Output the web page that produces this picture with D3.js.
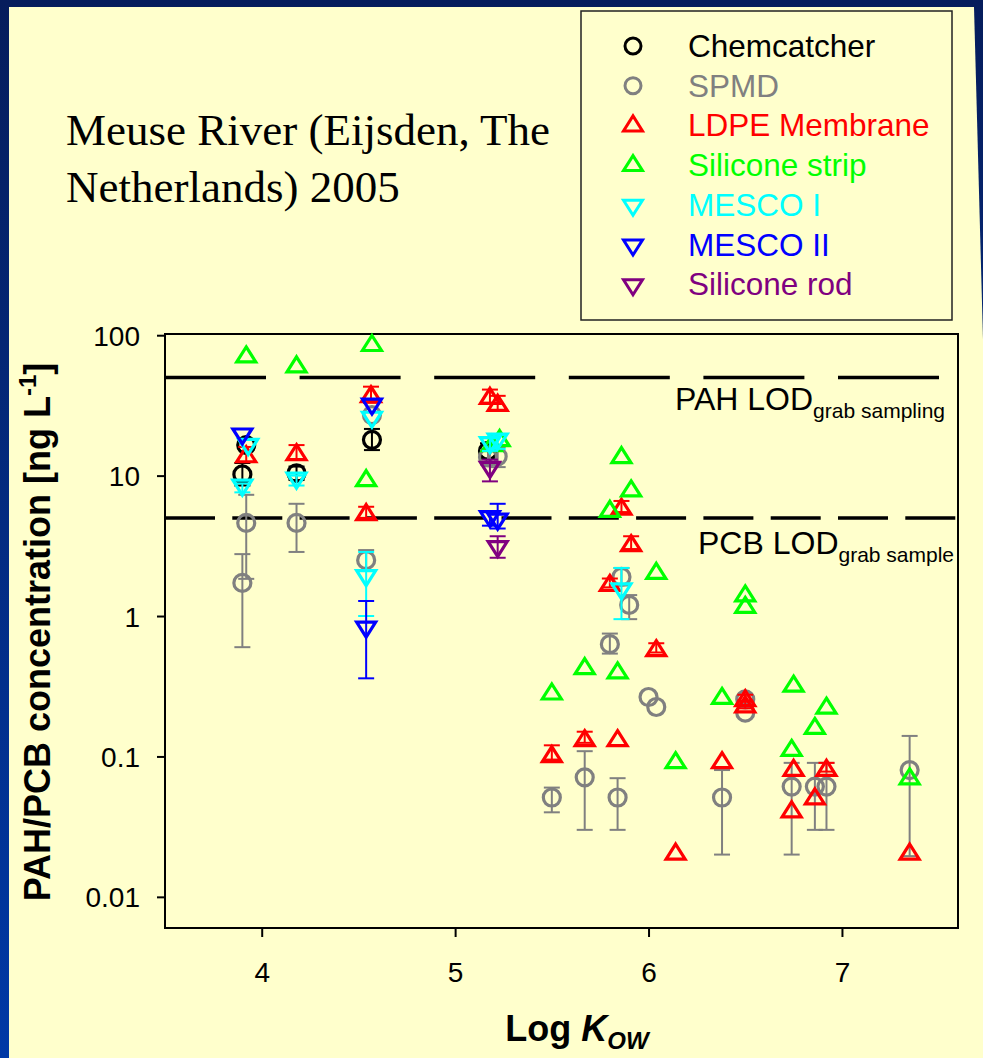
<!DOCTYPE html>
<html><head><meta charset="utf-8">
<script src="https://cdn.jsdelivr.net/npm/d3@7"></script>
<style>html,body{margin:0;padding:0;background:#fff}svg{display:block}</style>
</head><body>
<script>
// Axis ticks
const xTicks = [4, 5, 6, 7];
const xTickLabels = ["4", "5", "6", "7"];
const yTicks = [0.01, 0.1, 1, 10, 100];
const yTickLabels = ["0.01", "0.1", "1", "10", "100"];

// Detection limits of grab sampling (ng/L)
const pahLOD = 50;
const pcbLOD = 5;

// Each row: [log Kow, concentration ng/L, lower bound, upper bound] (null = no error bar)
const chemcatcher = [
  [3.90, 10.2, 8.5, 12.3], [3.92, 16.5, null, null], [4.18, 10.4, 9.3, 11.6],
  [4.57, 18, 15.2, 21.5], [5.17, 15, 13.2, 17]
];
const spmd = [
  [3.90, 1.72, 0.60, 2.76], [3.92, 4.6, 1.84, 7.3], [4.18, 4.6, 2.86, 6.3],
  [4.54, 2.5, 2.1, 2.95], [4.57, 27, null, null], [5.17, 13.5, 12, 15.2],
  [5.22, 13.7, 11.5, 16], [5.86, 1.9, 1.65, 2.2], [5.90, 1.2, 0.95, 1.41],
  [5.80, 0.63, 0.54, 0.75], [6.00, 0.265, null, null], [6.04, 0.225, null, null],
  [6.50, 0.255, null, null], [6.50, 0.205, null, null], [5.50, 0.051, 0.04, 0.06],
  [5.67, 0.071, 0.030, 0.109], [5.84, 0.051, 0.030, 0.070], [6.38, 0.051, 0.020, 0.080],
  [6.74, 0.061, 0.020, 0.09], [6.86, 0.061, 0.030, 0.09], [6.92, 0.061, 0.030, 0.09],
  [7.35, 0.080, 0.0195, 0.14]
];
const ldpe = [
  [3.92, 14.2, 12.5, 16], [4.18, 14.7, 13, 16.5], [4.565, 38, 33, 43], [4.54, 5.5, 5.0, 6.0],
  [5.18, 37, 33, 41], [5.22, 33, 29, 37], [5.86, 6.0, 5.5, 6.6], [5.91, 3.3, 3.0, 3.7],
  [5.80, 1.72, 1.6, 1.85], [6.04, 0.59, 0.55, 0.64], [5.50, 0.104, 0.095, 0.12],
  [5.67, 0.135, 0.125, 0.15], [5.84, 0.135, null, null], [6.38, 0.094, null, null],
  [6.14, 0.021, null, null], [6.50, 0.26, 0.245, 0.275], [6.50, 0.235, 0.22, 0.25],
  [6.75, 0.083, null, null], [6.74, 0.042, null, null], [6.86, 0.052, null, null],
  [6.92, 0.083, 0.078, 0.09], [7.35, 0.021, null, null]
];
const siliconeStrip = [
  [3.92, 73, null, null], [4.18, 62, null, null], [4.57, 88, null, null], [4.54, 9.6, null, null],
  [5.19, 17, null, null], [5.23, 18.5, null, null], [5.86, 14, null, null], [5.91, 8.1, null, null],
  [5.80, 5.8, null, null], [6.04, 2.1, null, null], [5.67, 0.44, null, null], [5.84, 0.41, null, null],
  [5.50, 0.29, null, null], [6.38, 0.27, null, null], [6.14, 0.094, null, null], [6.50, 1.45, null, null],
  [6.50, 1.2, null, null], [6.75, 0.33, null, null], [6.92, 0.23, null, null], [6.86, 0.165, null, null],
  [6.74, 0.115, null, null], [7.35, 0.072, null, null]
];
const mescoI = [
  [3.93, 16, null, null], [3.90, 8.2, 7.6, 8.8], [4.18, 9.2, 8.5, 10], [4.57, 25, null, null],
  [4.54, 1.86, 1.0, 2.86], [5.18, 16.5, 15, 18.5], [5.22, 17.5, 15.5, 19.5], [5.86, 1.5, 0.95, 2.2]
];
const mescoII = [
  [3.90, 19, null, null], [4.57, 31, null, null], [4.54, 0.8, 0.36, 1.28],
  [5.18, 4.9, 4.4, 5.5], [5.22, 4.7, 4.2, 6.3]
];
const siliconeRod = [
  [5.18, 11, 9.1, 13], [5.22, 3.0, 2.6, 3.7]
];

const seriesNames = ["Chemcatcher", "SPMD", "LDPE Membrane", "Silicone strip", "MESCO I", "MESCO II", "Silicone rod"];
const seriesData = [chemcatcher, spmd, ldpe, siliconeStrip, mescoI, mescoII, siliconeRod];
const seriesColors = ["#000000", "#808080", "#ff0000", "#00ff00", "#00ffff", "#0000ff", "#800080"];
const seriesShapes = ["circle", "circle", "up", "up", "down", "down", "down"];

const W = 983, H = 1058;
const svg = d3.select("body").append("svg").attr("width", W).attr("height", H);

// Slide background: blue surround with a pale yellow panel
const defs = svg.append("defs");
const grad = defs.append("linearGradient").attr("id", "bg").attr("x1", 0).attr("y1", 0).attr("x2", 0).attr("y2", 1);
grad.append("stop").attr("offset", 0).attr("stop-color", "#061d5c");
grad.append("stop").attr("offset", 1).attr("stop-color", "#0039a6");
svg.append("rect").attr("width", W).attr("height", H).attr("fill", "url(#bg)");
svg.append("path").attr("d", `M9,7L974,7L983,340L983,${H}L9,${H}Z`).attr("fill", "#ffffcc");

// Scales
const plotL = 165, plotR = 958, plotT = 334, plotB = 928;
const x = d3.scaleLinear().domain([3.5, 7.6]).range([plotL, plotR]);
const y = d3.scaleLog().domain([0.006, 102]).range([plotB, plotT]);

// Title
const title = svg.append("text").attr("font-family", "'Liberation Serif','Times New Roman',serif")
  .attr("font-size", 45).attr("fill", "#000");
title.append("tspan").attr("x", 66).attr("y", 145).text("Meuse River (Eijsden, The");
title.append("tspan").attr("x", 66).attr("y", 202).text("Netherlands) 2005");

// Frame
svg.append("rect").attr("x", plotL).attr("y", plotT).attr("width", plotR - plotL).attr("height", plotB - plotT)
  .attr("fill", "none").attr("stroke", "#000").attr("stroke-width", 2);

// Axes
const fontSans = "'Liberation Sans', Arial, sans-serif";
const yAxis = svg.append("g").attr("transform", `translate(${plotL},0)`)
  .call(d3.axisLeft(y).tickValues(yTicks).tickFormat((d, i) => yTickLabels[i]).tickSize(8).tickSizeOuter(0).tickPadding(17));
yAxis.select(".domain").remove();
yAxis.selectAll("line").attr("stroke", "#000").attr("stroke-width", 2);
yAxis.selectAll("text").attr("font-family", fontSans).attr("font-size", 28).attr("fill", "#000").attr("dy", "0.36em");

const xAxis = svg.append("g").attr("transform", `translate(0,${plotB})`)
  .call(d3.axisBottom(x).tickValues(xTicks).tickFormat((d, i) => xTickLabels[i]).tickSize(9).tickSizeOuter(0).tickPadding(34));
xAxis.select(".domain").remove();
xAxis.selectAll("line").attr("stroke", "#000").attr("stroke-width", 2);
xAxis.selectAll("text").attr("font-family", fontSans).attr("font-size", 28).attr("fill", "#000").attr("dy", "0.71em")
  .attr("y", 54 - 0.71 * 28);

// Axis titles
const yTitle = svg.append("text").attr("transform", "translate(50,632) rotate(-90)")
  .attr("text-anchor", "middle").attr("font-family", fontSans).attr("font-weight", "bold")
  .attr("font-size", 36).attr("fill", "#000");
yTitle.append("tspan").text("PAH/PCB concentration [ng L");
yTitle.append("tspan").attr("dy", -14).attr("font-size", 24).text("-1");
yTitle.append("tspan").attr("dy", 14).text("]");

const xTitle = svg.append("text").attr("x", 577).attr("y", 1041).attr("text-anchor", "middle")
  .attr("font-family", fontSans).attr("font-weight", "bold").attr("font-size", 36).attr("fill", "#000");
xTitle.append("tspan").text("Log ");
xTitle.append("tspan").attr("font-style", "italic").text("K");
xTitle.append("tspan").attr("font-style", "italic").attr("font-size", 24).attr("dy", 8).text("OW");

// Detection limit lines
svg.append("line").attr("x1", plotL).attr("x2", plotR).attr("y1", y(pahLOD)).attr("y2", y(pahLOD))
  .attr("stroke", "#000").attr("stroke-width", 3.5).attr("stroke-dasharray", "101,33.6");
svg.append("line").attr("x1", plotL).attr("x2", plotR).attr("y1", y(pcbLOD)).attr("y2", y(pcbLOD))
  .attr("stroke", "#000").attr("stroke-width", 3.5).attr("stroke-dasharray", "50,17.3");

const pahLabel = svg.append("text").attr("x", 675).attr("y", y(pahLOD) + 33)
  .attr("font-family", fontSans).attr("font-size", 32).attr("fill", "#000");
pahLabel.append("tspan").text("PAH LOD");
pahLabel.append("tspan").attr("font-size", 21).attr("dy", 8).text("grab sampling");
const pcbLabel = svg.append("text").attr("x", 698).attr("y", y(pcbLOD) + 36)
  .attr("font-family", fontSans).attr("font-size", 32).attr("fill", "#000");
pcbLabel.append("tspan").text("PCB LOD");
pcbLabel.append("tspan").attr("font-size", 21).attr("dy", 8).text("grab sample");

// Marker shapes (centred on their bounding box)
function shapePath(shape) {
  if (shape === "up") return "M0,-7.5L9.5,7.5L-9.5,7.5Z";
  if (shape === "down") return "M0,7.5L9.5,-7.5L-9.5,-7.5Z";
  return null;
}
function drawMarker(g, shape, color, cx, cy) {
  if (shape === "circle") {
    g.append("circle").attr("cx", cx).attr("cy", cy).attr("r", 8.5)
      .attr("fill", "none").attr("stroke", color).attr("stroke-width", 3.2);
  } else {
    g.append("path").attr("d", shapePath(shape)).attr("transform", `translate(${cx},${cy})`)
      .attr("fill", "none").attr("stroke", color).attr("stroke-width", 3.2).attr("stroke-linejoin", "miter");
  }
}

// Data: error bars then markers, series in legend order
const plot = svg.append("g");
seriesData.forEach((rows, si) => {
  const color = seriesColors[si];
  const g = plot.append("g");
  rows.forEach(r => {
    const [kx, c, lo, hi] = r;
    if (lo !== null && hi !== null) {
      const px = x(kx);
      g.append("line").attr("x1", px).attr("x2", px).attr("y1", y(lo)).attr("y2", y(hi))
        .attr("stroke", color).attr("stroke-width", 2);
      [lo, hi].forEach(v => {
        g.append("line").attr("x1", px - 8).attr("x2", px + 8).attr("y1", y(v)).attr("y2", y(v))
          .attr("stroke", color).attr("stroke-width", 2);
      });
    }
  });
  rows.forEach(r => drawMarker(g, seriesShapes[si], color, x(r[0]), y(r[1])));
});

// Legend
const legend = svg.append("g");
legend.append("rect").attr("x", 581).attr("y", 11).attr("width", 371).attr("height", 309)
  .attr("fill", "#ffffcc").attr("stroke", "#222").attr("stroke-width", 1.5);
seriesNames.forEach((name, i) => {
  const base = 57 + i * 39.7;
  const shape = seriesShapes[i];
  const cy = shape === "circle" ? base - 11 : (shape === "up" ? base - 13 : base - 8);
  if (shape === "circle") {
    legend.append("circle").attr("cx", 633).attr("cy", cy).attr("r", 8)
      .attr("fill", "none").attr("stroke", seriesColors[i]).attr("stroke-width", 3);
  } else {
    legend.append("path").attr("d", shapePath(shape)).attr("transform", `translate(633,${cy})`)
      .attr("fill", "none").attr("stroke", seriesColors[i]).attr("stroke-width", 3);
  }
  legend.append("text").attr("x", 688).attr("y", base).attr("font-family", fontSans)
    .attr("font-size", 31.5).attr("fill", seriesColors[i]).text(name);
});
</script>
</body></html>
